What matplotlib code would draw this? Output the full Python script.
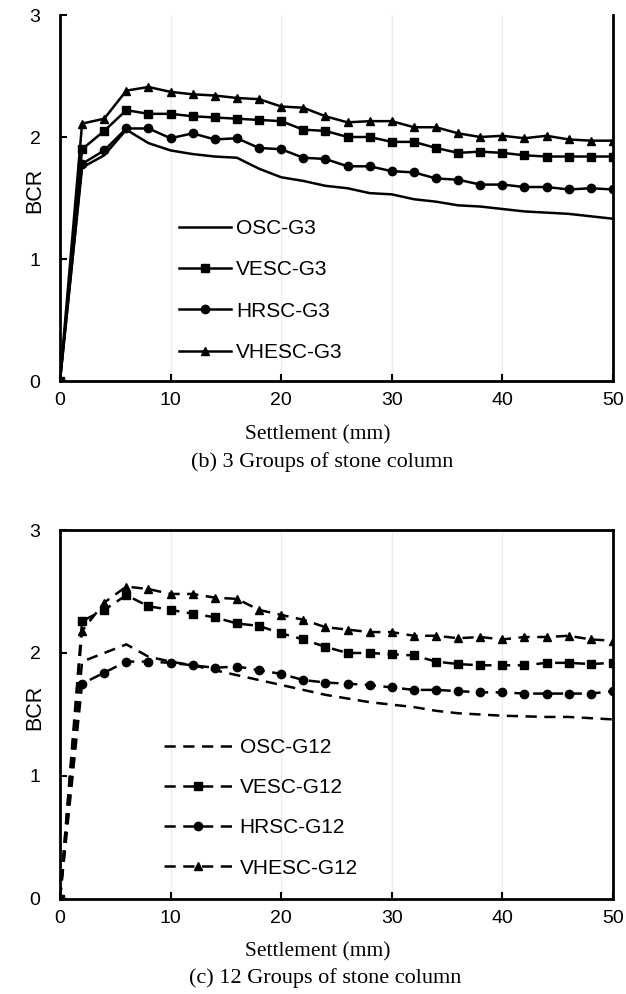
import matplotlib
matplotlib.use("Agg")
import matplotlib.pyplot as plt

# ===== DATA =====
settlement = [0, 2, 4, 6, 8, 10, 12, 14, 16, 18, 20, 22, 24, 26, 28, 30,
              32, 34, 36, 38, 40, 42, 44, 46, 48, 50]

osc_g3 = [0, 1.75, 1.85, 2.06, 1.95, 1.89, 1.86, 1.84, 1.83, 1.74, 1.67, 1.64, 1.60,
          1.58, 1.54, 1.53, 1.49, 1.47, 1.44, 1.43, 1.41, 1.39, 1.38, 1.37, 1.35, 1.33]
vesc_g3 = [0, 1.90, 2.05, 2.22, 2.19, 2.19, 2.17, 2.16, 2.15, 2.14, 2.13, 2.06, 2.05,
           2.00, 2.00, 1.96, 1.96, 1.91, 1.87, 1.88, 1.87, 1.85, 1.84, 1.84, 1.84, 1.84]
hrsc_g3 = [0, 1.78, 1.89, 2.07, 2.07, 1.99, 2.03, 1.98, 1.99, 1.91, 1.90, 1.83, 1.82,
           1.76, 1.76, 1.72, 1.71, 1.66, 1.65, 1.61, 1.61, 1.59, 1.59, 1.57, 1.58, 1.57]
vhesc_g3 = [0, 2.11, 2.15, 2.38, 2.41, 2.37, 2.35, 2.34, 2.32, 2.31, 2.25, 2.24, 2.17,
            2.12, 2.13, 2.13, 2.08, 2.08, 2.03, 2.00, 2.01, 1.99, 2.01, 1.98, 1.97, 1.97]

osc_g12 = [0, 1.93, 2.00, 2.07, 1.97, 1.93, 1.90, 1.86, 1.82, 1.78, 1.74, 1.70, 1.66,
           1.63, 1.60, 1.58, 1.56, 1.53, 1.51, 1.50, 1.49, 1.485, 1.48, 1.48, 1.47, 1.46]
vesc_g12 = [0, 2.26, 2.35, 2.47, 2.38, 2.35, 2.32, 2.29, 2.24, 2.22, 2.16, 2.11, 2.05,
            2.00, 2.00, 1.99, 1.98, 1.93, 1.91, 1.90, 1.90, 1.90, 1.92, 1.92, 1.91, 1.92]
hrsc_g12 = [0, 1.75, 1.84, 1.93, 1.93, 1.92, 1.90, 1.88, 1.89, 1.86, 1.83, 1.78, 1.76,
            1.75, 1.74, 1.72, 1.70, 1.70, 1.69, 1.68, 1.68, 1.67, 1.67, 1.67, 1.67, 1.69]
vhesc_g12 = [0, 2.18, 2.41, 2.54, 2.52, 2.48, 2.48, 2.45, 2.44, 2.35, 2.31, 2.27, 2.21,
             2.19, 2.17, 2.17, 2.14, 2.14, 2.12, 2.13, 2.11, 2.13, 2.13, 2.14, 2.11, 2.10]

labels_g3 = ["OSC-G3", "VESC-G3", "HRSC-G3", "VHESC-G3"]
labels_g12 = ["OSC-G12", "VESC-G12", "HRSC-G12", "VHESC-G12"]
markers = [None, "s", "o", "^"]

SANS = "Liberation Sans"
SERIF = "Liberation Serif"

fig = plt.figure(figsize=(6.26, 9.94), dpi=100)
ax_top = fig.add_axes([0.0958, 0.6167, 0.8834, 0.3682])
ax_bot = fig.add_axes([0.0958, 0.0956, 0.8834, 0.3712])


def style_axis(ax, top_spine):
    ax.set_xlim(0, 50)
    ax.set_ylim(0, 3)
    ax.set_xticks(range(0, 51, 10))
    ax.set_yticks([0, 1, 2, 3])
    ax.grid(axis="x", color="#ececec", lw=1)
    ax.set_axisbelow(True)
    for side in ["left", "bottom", "right", "top"]:
        ax.spines[side].set_linewidth(2)
        ax.spines[side].set_color("black")
    ax.spines["top"].set_visible(top_spine)
    ax.tick_params(axis="y", direction="in", length=5, width=1.5, labelsize=14, pad=14)
    ax.tick_params(axis="x", direction="in", length=5, width=1.5, labelsize=14, pad=8)
    for lab in ax.get_xticklabels() + ax.get_yticklabels():
        lab.set_fontfamily(SANS)
    ax.set_ylabel("BCR", fontsize=15.5, family=SANS)
    ax.yaxis.set_label_coords(-0.027, 0.52)


# ===== TOP: 3 groups =====
for ys, lab, m in zip([osc_g3, vesc_g3, hrsc_g3, vhesc_g3], labels_g3, markers):
    ax_top.plot(settlement, ys, color="black", lw=1.8, marker=m, markersize=6,
                label=lab)
style_axis(ax_top, top_spine=False)
ax_top.legend(loc="upper left", bbox_to_anchor=(0.2152, 0.4426), frameon=False,
              borderpad=0, borderaxespad=0, handlelength=2.5, handletextpad=0.25,
              labelspacing=1.07, prop={"family": SANS, "size": 15})

# ===== BOTTOM: 12 groups =====
for ys, lab, m in zip([osc_g12, vesc_g12, hrsc_g12, vhesc_g12], labels_g12, markers):
    ax_bot.plot(settlement, ys, color="black", lw=1.8, marker=m, markersize=6,
                ls=(0, (4.5, 3)), label=lab)
style_axis(ax_bot, top_spine=True)
ax_bot.legend(loc="upper left", bbox_to_anchor=(0.188, 0.4363), frameon=False,
              borderpad=0, borderaxespad=0, handlelength=3.25, handletextpad=0.38,
              labelspacing=1.02, prop={"family": SANS, "size": 15})

# ===== LABELS / CAPTIONS =====
fig.text(0.508, 0.5624, "Settlement (mm)", ha="center", va="center",
         fontsize=15.5, family=SERIF)
fig.text(0.515, 0.5352, "(b) 3 Groups of stone column", ha="center", va="center",
         fontsize=16, family=SERIF)
fig.text(0.508, 0.0423, "Settlement (mm)", ha="center", va="center",
         fontsize=15.5, family=SERIF)
fig.text(0.52, 0.0161, "(c) 12 Groups of stone column", ha="center", va="center",
         fontsize=16, family=SERIF)

fig.savefig("out.png", dpi=100)
